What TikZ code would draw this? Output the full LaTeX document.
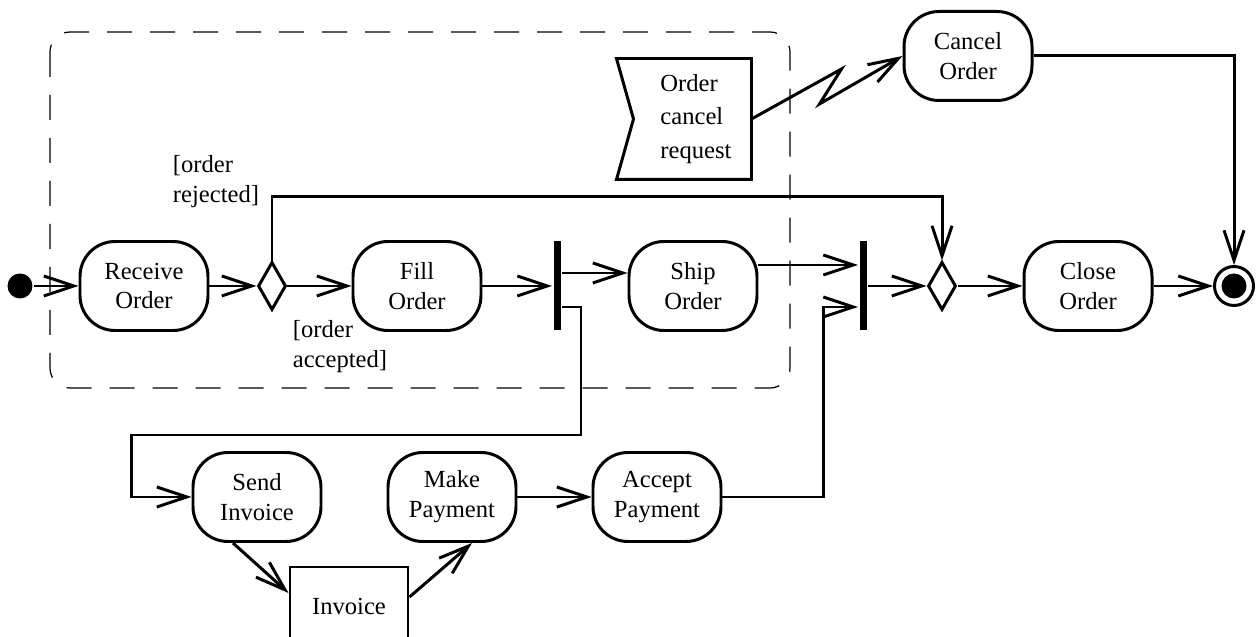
\documentclass[tikz,border=0pt]{standalone}
\usepackage{fontspec}
\setmainfont{Liberation Serif}
\usepackage{tikz}
\usetikzlibrary{arrows.meta, positioning, shapes.geometric}

\begin{document}
\begin{tikzpicture}[line width=1.7pt, on grid,
    >={Straight Barb[length=6mm, width=4mm]},
    act/.style = {draw, rounded corners=0.7cm, minimum width=2.56cm, minimum height=1.78cm, align=center, font=\fontsize{14}{17}\selectfont},
    dec/.style = {draw, diamond, minimum width=0.56cm, minimum height=0.96cm, inner sep=0pt},
    bar/.style = {fill, minimum width=0.14cm, minimum height=1.78cm, inner sep=0pt},
    lbl/.style = {align=left, font=\fontsize{14}{17}\selectfont}]
    \useasboundingbox (0,0) rectangle (25.16,-12.74);
    \draw[line width=0.7pt, dash pattern=on 0.5cm off 0.36cm, rounded corners=0.4cm] (1.0,-0.64) rectangle (15.8,-7.76);

    \node[circle, fill, minimum size=0.5cm, inner sep=0pt] (start) at (0.4,-5.72) {};
    \node[act] (rcv)    [right=2.48cm of start] {Receive\\Order};
    \node[dec] (dec1)   [right=2.56cm of rcv]   {};
    \node[act] (fill)   [right=2.9cm of dec1]   {Fill\\Order};
    \node[bar] (fork)   [right=2.8cm of fill]   {};
    \node[act] (ship)   [right=2.72cm of fork]  {Ship\\Order};
    \node[bar] (join)   [right=3.4cm of ship]   {};
    \node[dec] (dec2)   [right=1.58cm of join]  {};
    \node[act] (close)  [right=2.92cm of dec2]  {Close\\Order};
    \node[circle, draw, minimum size=0.78cm, inner sep=0pt,
          path picture={\fill (path picture bounding box.center) circle (0.25cm);}] (final) [right=2.92cm of close] {};
    \node[act] (send)   at (5.14,-9.94)         {Send\\Invoice};
    \node[act] (make)   [right=3.9cm of send]   {Make\\Payment};
    \node[act] (accept) [right=4.1cm of make]   {Accept\\Payment};
    \node[draw, minimum width=2.36cm, minimum height=1.56cm, font=\fontsize{14}{17}\selectfont] (invoice) at (6.98,-12.12) {Invoice};
    \node[act] (cancel) at (19.36,-1.12)        {Cancel\\Order};
    % signal box, text sits a bit right of the middle
    \node[minimum width=2.64cm, minimum height=2.36cm, align=left, inner sep=0pt,
          font=\fontsize{14}{19}\selectfont] (req) at (13.92,-2.38) {Order\\cancel\\request};
    \draw ([xshift=-2.4mm]req.north west) -- ([xshift=-2.4mm]req.north east) -- ([xshift=-2.4mm]req.south east)
          -- ([xshift=-2.4mm]req.south west) -- ([xshift=1mm]req.west) -- cycle;
    \node[lbl] (rej) at (4.32,-3.64) {[order\\rejected]};
    \node[lbl] (acc) at (6.8,-6.94)  {[order\\accepted]};

    \draw[->] (start) -- (rcv);
    \draw[->] (rcv) -- (dec1);
    \draw[->] (dec1) -- (fill);
    \draw[->] (dec1.north) -- ++(0,1.28) -| (dec2.north);
    \draw[->] (fill) -- (fork);
    \draw[->] ([yshift=2.6mm]fork.east) -- ([yshift=2.6mm]fork.east -| ship.west);
    \draw[->] ([yshift=-4.2mm]fork.east) -- ++(0.38,0) -- ++(0,-2.56) -| ([xshift=-1.2cm]send.west) -- (send.west);
    \draw[->] ([yshift=4.2mm]ship.east) -- ([yshift=4.2mm]ship.east -| join.west);
    \draw[->] ([xshift=-4.8mm]send.south) -- ([yshift=2.6mm]invoice.west);
    \draw[->] ([yshift=1.8mm]invoice.east) -- ([xshift=4mm]make.south);
    \draw[->] (make) -- (accept);
    \draw[->] (accept.east) -- ++(2.02,0) |- ([yshift=-4.2mm]join.west);
    \draw[->] (join) -- (dec2);
    \draw[->] (dec2) -- (close);
    \draw[->] (close) -- (final);
    \draw[->] ([xshift=-2.4mm]req.east) -- ++(1.8,1.0) -- ++(-0.44,-0.7) -- (cancel.west);
    \draw[->] (cancel.east) -| (final);
\end{tikzpicture}
\end{document}
